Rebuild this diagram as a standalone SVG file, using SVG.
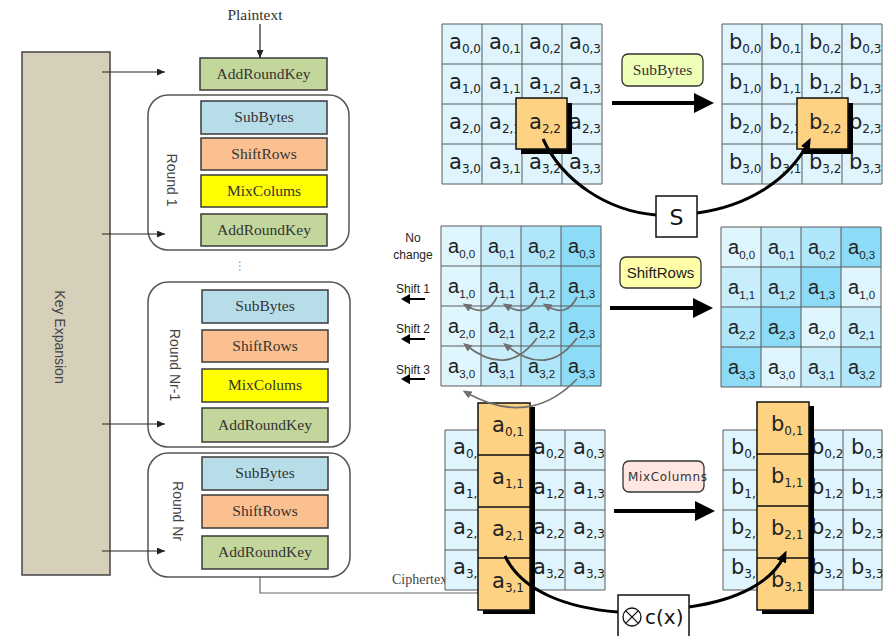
<svg xmlns="http://www.w3.org/2000/svg" width="886" height="636" viewBox="0 0 886 636">
<style>
.dv{font-family:"DejaVu Sans",sans-serif;font-size:21px;fill:#222}
.dv .sub{font-size:12px}
.ls{font-family:"Liberation Sans",Arial,sans-serif;font-size:20px;fill:#222}
.ls .sub{font-size:11.5px}
.gl{fill:none;stroke:#5a5a5a;stroke-width:1}
.or{fill:#fdd283;stroke:#111;stroke-width:1.5}
.box{stroke:#3a3a3a;stroke-width:1.5}
.bt{font-family:"Liberation Serif","Times New Roman",serif;font-size:15.5px;fill:#333;text-anchor:middle}
.rnd{fill:#fff;stroke:#555;stroke-width:1.5}
.rt{font-family:"Liberation Sans",Arial,sans-serif;font-size:14px;fill:#444;text-anchor:middle;dominant-baseline:central}
.ka{fill:none;stroke:#222;stroke-width:1.2;marker-end:url(#ah)}
.big{fill:none;stroke:#000;stroke-width:4;marker-end:url(#bh)}
.cv{fill:none;stroke:#000;stroke-width:3}
.ga{fill:none;stroke:#707070;stroke-width:1.8;marker-end:url(#gh)}
.sg{font-family:"Liberation Sans",Arial,sans-serif;font-size:12px;fill:#222;text-anchor:middle}
</style>
<defs>
<marker id="ah" markerUnits="userSpaceOnUse" markerWidth="8" markerHeight="7" refX="8" refY="3.5" orient="auto"><path d="M0,0 L8,3.5 L0,7 z" fill="#222"/></marker>
<marker id="bh" markerUnits="userSpaceOnUse" markerWidth="20" markerHeight="20" refX="8" refY="10" orient="auto"><path d="M0,0 L20,10 L0,20 z" fill="#000"/></marker>
<marker id="ch" markerUnits="userSpaceOnUse" markerWidth="12" markerHeight="10" refX="6" refY="5" orient="auto"><path d="M0,0 L12,5 L0,10 z" fill="#000"/></marker>
<marker id="gh" markerUnits="userSpaceOnUse" markerWidth="9" markerHeight="8" refX="4" refY="4" orient="auto"><path d="M0,0 L9,4 L0,8 z" fill="#707070"/></marker>
</defs>
<rect width="886" height="636" fill="#fff"/>

<!-- Left: AES structure -->
<g id="key-expansion">
<rect x="22" y="52" width="88" height="523" fill="#d6d0bb" stroke="#444" stroke-width="1.5"/>
<text class="rt" font-size="13" transform="translate(60,337) rotate(90)">Key Expansion</text>
</g>
<g id="plaintext"><text class="bt" x="255" y="20">Plaintext</text></g>
<g id="ark0"><rect class="box" x="200" y="58" width="127" height="32" fill="#c3d69b"/><text class="bt" x="263.5" y="79">AddRoundKey</text></g>

<g id="round1">
<rect class="rnd" x="148" y="95" width="201" height="155" rx="20"/>
<text class="rt" transform="translate(172,180) rotate(90)">Round 1</text>
<rect class="box" x="201" y="101" width="126" height="33" fill="#b7dee8"/><text class="bt" x="264" y="122">SubBytes</text>
<rect class="box" x="201" y="138" width="126" height="32" fill="#fac090"/><text class="bt" x="264" y="159">ShiftRows</text>
<rect class="box" x="201" y="175" width="126" height="32" fill="#ffff00"/><text class="bt" x="264" y="196">MixColums</text>
<rect class="box" x="201" y="214" width="126" height="32" fill="#c3d69b"/><text class="bt" x="264" y="235">AddRoundKey</text>
</g>
<g id="dots"><text x="240" y="270" font-family="DejaVu Sans,sans-serif" font-size="12" fill="#999" text-anchor="middle">⋮</text></g>

<g id="round-nr-1">
<rect class="rnd" x="148" y="282" width="202" height="165" rx="20"/>
<text class="rt" transform="translate(175,365) rotate(90)">Round  Nr-1</text>
<rect class="box" x="202" y="290" width="126" height="33" fill="#b7dee8"/><text class="bt" x="265" y="311">SubBytes</text>
<rect class="box" x="202" y="330" width="126" height="32" fill="#fac090"/><text class="bt" x="265" y="351">ShiftRows</text>
<rect class="box" x="202" y="369" width="126" height="33" fill="#ffff00"/><text class="bt" x="265" y="390">MixColums</text>
<rect class="box" x="202" y="408" width="126" height="34" fill="#c3d69b"/><text class="bt" x="265" y="430">AddRoundKey</text>
</g>

<g id="round-nr">
<rect class="rnd" x="148" y="453" width="202" height="124" rx="20"/>
<text class="rt" transform="translate(178,511) rotate(90)">Round Nr</text>
<rect class="box" x="202" y="457" width="126" height="33" fill="#b7dee8"/><text class="bt" x="265" y="478">SubBytes</text>
<rect class="box" x="202" y="495" width="126" height="33" fill="#fac090"/><text class="bt" x="265" y="516">ShiftRows</text>
<rect class="box" x="202" y="536" width="126" height="33" fill="#c3d69b"/><text class="bt" x="265" y="557">AddRoundKey</text>
</g>
<g id="ciphertext"><text x="392" y="584" font-family="Liberation Serif,serif" font-size="14" fill="#444">Ciphertext</text></g>
<g id="ciphertext-line"><path d="M260,577 V593 H479" fill="none" stroke="#666" stroke-width="1.2"/></g>

<!-- SubBytes grids -->
<g id="subbytes-in" class="dv">
<rect x="442" y="24" width="160" height="160" fill="#dff4fd"/>
<path class="gl" d="M442,24 h160 v160 h-160 z M482,24 v160 M522,24 v160 M562,24 v160 M442,64 h160 M442,104 h160 M442,144 h160"/>
<text x="449" y="49">a<tspan class="sub" dy="4">0,0</tspan></text>
<text x="489" y="49">a<tspan class="sub" dy="4">0,1</tspan></text>
<text x="529" y="49">a<tspan class="sub" dy="4">0,2</tspan></text>
<text x="569" y="49">a<tspan class="sub" dy="4">0,3</tspan></text>
<text x="449" y="89">a<tspan class="sub" dy="4">1,0</tspan></text>
<text x="489" y="89">a<tspan class="sub" dy="4">1,1</tspan></text>
<text x="529" y="89">a<tspan class="sub" dy="4">1,2</tspan></text>
<text x="569" y="89">a<tspan class="sub" dy="4">1,3</tspan></text>
<text x="449" y="129">a<tspan class="sub" dy="4">2,0</tspan></text>
<text x="489" y="129">a<tspan class="sub" dy="4">2,1</tspan></text>
<text x="569" y="129">a<tspan class="sub" dy="4">2,3</tspan></text>
<text x="449" y="169">a<tspan class="sub" dy="4">3,0</tspan></text>
<text x="489" y="169">a<tspan class="sub" dy="4">3,1</tspan></text>
<text x="529" y="169">a<tspan class="sub" dy="4">3,2</tspan></text>
<text x="569" y="169">a<tspan class="sub" dy="4">3,3</tspan></text>
<rect x="521" y="103" width="51" height="51" fill="#000"/>
<rect class="or" x="516" y="98" width="51" height="51"/>
<text x="529" y="129">a<tspan class="sub" dy="4">2,2</tspan></text>
</g>

<g id="subbytes-out" class="dv">
<rect x="722" y="24" width="160" height="160" fill="#dff4fd"/>
<path class="gl" d="M722,24 h160 v160 h-160 z M762,24 v160 M802,24 v160 M842,24 v160 M722,64 h160 M722,104 h160 M722,144 h160"/>
<text x="729" y="49">b<tspan class="sub" dy="4">0,0</tspan></text>
<text x="769" y="49">b<tspan class="sub" dy="4">0,1</tspan></text>
<text x="809" y="49">b<tspan class="sub" dy="4">0,2</tspan></text>
<text x="849" y="49">b<tspan class="sub" dy="4">0,3</tspan></text>
<text x="729" y="89">b<tspan class="sub" dy="4">1,0</tspan></text>
<text x="769" y="89">b<tspan class="sub" dy="4">1,1</tspan></text>
<text x="809" y="89">b<tspan class="sub" dy="4">1,2</tspan></text>
<text x="849" y="89">b<tspan class="sub" dy="4">1,3</tspan></text>
<text x="729" y="129">b<tspan class="sub" dy="4">2,0</tspan></text>
<text x="769" y="129">b<tspan class="sub" dy="4">2,1</tspan></text>
<text x="849" y="129">b<tspan class="sub" dy="4">2,3</tspan></text>
<text x="729" y="169">b<tspan class="sub" dy="4">3,0</tspan></text>
<text x="769" y="169">b<tspan class="sub" dy="4">3,1</tspan></text>
<text x="809" y="169">b<tspan class="sub" dy="4">3,2</tspan></text>
<text x="849" y="169">b<tspan class="sub" dy="4">3,3</tspan></text>
<rect x="802" y="103" width="51" height="51" fill="#000"/>
<rect class="or" x="797" y="98" width="51" height="51"/>
<text x="809" y="129">b<tspan class="sub" dy="4">2,2</tspan></text>
</g>

<g id="subbytes-label">
<rect x="622" y="54" width="81" height="32" rx="6" fill="#eeffb8" stroke="#333" stroke-width="1.3"/>
<text class="bt" x="662.5" y="75">SubBytes</text>
</g>

<!-- ShiftRows grids -->
<g id="shiftrows-in" class="ls">
<rect x="441" y="226" width="40" height="160" fill="#e0f6fe"/>
<rect x="481" y="226" width="40" height="160" fill="#c8eefc"/>
<rect x="521" y="226" width="40" height="160" fill="#b0e6fa"/>
<rect x="561" y="226" width="40" height="160" fill="#8cdbf7"/>
<path class="gl" d="M441,226 h160 v160 h-160 z M481,226 v160 M521,226 v160 M561,226 v160 M441,266 h160 M441,306 h160 M441,346 h160"/>
<text x="448" y="253">a<tspan class="sub" dy="5">0,0</tspan></text>
<text x="488" y="253">a<tspan class="sub" dy="5">0,1</tspan></text>
<text x="528" y="253">a<tspan class="sub" dy="5">0,2</tspan></text>
<text x="568" y="253">a<tspan class="sub" dy="5">0,3</tspan></text>
<text x="448" y="293">a<tspan class="sub" dy="5">1,0</tspan></text>
<text x="488" y="293">a<tspan class="sub" dy="5">1,1</tspan></text>
<text x="528" y="293">a<tspan class="sub" dy="5">1,2</tspan></text>
<text x="568" y="293">a<tspan class="sub" dy="5">1,3</tspan></text>
<text x="448" y="333">a<tspan class="sub" dy="5">2,0</tspan></text>
<text x="488" y="333">a<tspan class="sub" dy="5">2,1</tspan></text>
<text x="528" y="333">a<tspan class="sub" dy="5">2,2</tspan></text>
<text x="568" y="333">a<tspan class="sub" dy="5">2,3</tspan></text>
<text x="448" y="373">a<tspan class="sub" dy="5">3,0</tspan></text>
<text x="488" y="373">a<tspan class="sub" dy="5">3,1</tspan></text>
<text x="528" y="373">a<tspan class="sub" dy="5">3,2</tspan></text>
<text x="568" y="373">a<tspan class="sub" dy="5">3,3</tspan></text>
</g>

<g id="shift-labels">
<text class="sg" x="413" y="242">No</text>
<text class="sg" x="413" y="259">change</text>
<text class="sg" x="413" y="293">Shift 1</text>
<text class="sg" x="413" y="333">Shift 2</text>
<text class="sg" x="413" y="374">Shift 3</text>
<path d="M425,299 H404 M409,295.5 L403,299 L409,302.5 z" stroke="#000" stroke-width="2" fill="#000"/>
<path d="M425,339 H404 M409,335.5 L403,339 L409,342.5 z" stroke="#000" stroke-width="2" fill="#000"/>
<path d="M425,379 H404 M409,375.5 L403,379 L409,382.5 z" stroke="#000" stroke-width="2" fill="#000"/>
</g>

<g id="shiftrows-out" class="ls">
<rect x="721" y="227" width="40" height="40" fill="#e0f6fe"/>
<rect x="761" y="227" width="40" height="40" fill="#c8eefc"/>
<rect x="801" y="227" width="40" height="40" fill="#b0e6fa"/>
<rect x="841" y="227" width="40" height="40" fill="#8cdbf7"/>
<rect x="721" y="267" width="40" height="40" fill="#c8eefc"/>
<rect x="761" y="267" width="40" height="40" fill="#b0e6fa"/>
<rect x="801" y="267" width="40" height="40" fill="#8cdbf7"/>
<rect x="841" y="267" width="40" height="40" fill="#e0f6fe"/>
<rect x="721" y="307" width="40" height="40" fill="#b0e6fa"/>
<rect x="761" y="307" width="40" height="40" fill="#8cdbf7"/>
<rect x="801" y="307" width="40" height="40" fill="#e0f6fe"/>
<rect x="841" y="307" width="40" height="40" fill="#c8eefc"/>
<rect x="721" y="347" width="40" height="40" fill="#8cdbf7"/>
<rect x="761" y="347" width="40" height="40" fill="#e0f6fe"/>
<rect x="801" y="347" width="40" height="40" fill="#c8eefc"/>
<rect x="841" y="347" width="40" height="40" fill="#b0e6fa"/>
<path class="gl" d="M721,227 h160 v160 h-160 z M761,227 v160 M801,227 v160 M841,227 v160 M721,267 h160 M721,307 h160 M721,347 h160"/>
<text x="728" y="254">a<tspan class="sub" dy="5">0,0</tspan></text>
<text x="768" y="254">a<tspan class="sub" dy="5">0,1</tspan></text>
<text x="808" y="254">a<tspan class="sub" dy="5">0,2</tspan></text>
<text x="848" y="254">a<tspan class="sub" dy="5">0,3</tspan></text>
<text x="728" y="294">a<tspan class="sub" dy="5">1,1</tspan></text>
<text x="768" y="294">a<tspan class="sub" dy="5">1,2</tspan></text>
<text x="808" y="294">a<tspan class="sub" dy="5">1,3</tspan></text>
<text x="848" y="294">a<tspan class="sub" dy="5">1,0</tspan></text>
<text x="728" y="334">a<tspan class="sub" dy="5">2,2</tspan></text>
<text x="768" y="334">a<tspan class="sub" dy="5">2,3</tspan></text>
<text x="808" y="334">a<tspan class="sub" dy="5">2,0</tspan></text>
<text x="848" y="334">a<tspan class="sub" dy="5">2,1</tspan></text>
<text x="728" y="374">a<tspan class="sub" dy="5">3,3</tspan></text>
<text x="768" y="374">a<tspan class="sub" dy="5">3,0</tspan></text>
<text x="808" y="374">a<tspan class="sub" dy="5">3,1</tspan></text>
<text x="848" y="374">a<tspan class="sub" dy="5">3,2</tspan></text>
</g>

<g id="shiftrows-label">
<rect x="620" y="257" width="81" height="31" rx="6" fill="#ffffaa" stroke="#333" stroke-width="1.3"/>
<text x="660.5" y="278" font-family="Liberation Sans,Arial,sans-serif" font-size="15" fill="#222" text-anchor="middle">ShiftRows</text>
</g>

<!-- MixColumns grids -->
<g id="mixcolumns-in" class="dv">
<rect x="445" y="430" width="160" height="160" fill="#dff4fd"/>
<path class="gl" d="M445,430 h160 v160 h-160 z M485,430 v160 M525,430 v160 M565,430 v160 M445,470 h160 M445,510 h160 M445,550 h160"/>
<text x="453" y="454">a<tspan class="sub" dy="4">0,0</tspan></text>
<text x="533" y="454">a<tspan class="sub" dy="4">0,2</tspan></text>
<text x="573" y="454">a<tspan class="sub" dy="4">0,3</tspan></text>
<text x="453" y="494">a<tspan class="sub" dy="4">1,0</tspan></text>
<text x="533" y="494">a<tspan class="sub" dy="4">1,2</tspan></text>
<text x="573" y="494">a<tspan class="sub" dy="4">1,3</tspan></text>
<text x="453" y="534">a<tspan class="sub" dy="4">2,0</tspan></text>
<text x="533" y="534">a<tspan class="sub" dy="4">2,2</tspan></text>
<text x="573" y="534">a<tspan class="sub" dy="4">2,3</tspan></text>
<text x="453" y="574">a<tspan class="sub" dy="4">3,0</tspan></text>
<text x="533" y="574">a<tspan class="sub" dy="4">3,2</tspan></text>
<text x="573" y="574">a<tspan class="sub" dy="4">3,3</tspan></text>
<rect x="483" y="407" width="52" height="207" fill="#000"/>
<rect class="or" x="478" y="403" width="52" height="207"/>
<path d="M478,455 h52 M478,507 h52 M478,558 h52" stroke="#111" stroke-width="1.5"/>
<text x="492" y="432">a<tspan class="sub" dy="4">0,1</tspan></text>
<text x="492" y="484">a<tspan class="sub" dy="4">1,1</tspan></text>
<text x="492" y="536">a<tspan class="sub" dy="4">2,1</tspan></text>
<text x="492" y="588">a<tspan class="sub" dy="4">3,1</tspan></text>
</g>

<g id="mixcolumns-out" class="dv">
<rect x="723" y="430" width="159" height="160" fill="#dff4fd"/>
<path class="gl" d="M723,430 h159 v160 h-159 z M763,430 v160 M803,430 v160 M843,430 v160 M723,470 h159 M723,510 h159 M723,550 h159"/>
<text x="731" y="454">b<tspan class="sub" dy="4">0,0</tspan></text>
<text x="811" y="454">b<tspan class="sub" dy="4">0,2</tspan></text>
<text x="851" y="454">b<tspan class="sub" dy="4">0,3</tspan></text>
<text x="731" y="494">b<tspan class="sub" dy="4">1,0</tspan></text>
<text x="811" y="494">b<tspan class="sub" dy="4">1,2</tspan></text>
<text x="851" y="494">b<tspan class="sub" dy="4">1,3</tspan></text>
<text x="731" y="534">b<tspan class="sub" dy="4">2,0</tspan></text>
<text x="811" y="534">b<tspan class="sub" dy="4">2,2</tspan></text>
<text x="851" y="534">b<tspan class="sub" dy="4">2,3</tspan></text>
<text x="731" y="574">b<tspan class="sub" dy="4">3,0</tspan></text>
<text x="811" y="574">b<tspan class="sub" dy="4">3,2</tspan></text>
<text x="851" y="574">b<tspan class="sub" dy="4">3,3</tspan></text>
<rect x="762" y="406" width="52" height="208" fill="#000"/>
<rect class="or" x="757" y="402" width="52" height="208"/>
<path d="M757,454 h52 M757,506 h52 M757,558 h52" stroke="#111" stroke-width="1.5"/>
<text x="771" y="431">b<tspan class="sub" dy="4">0,1</tspan></text>
<text x="771" y="483">b<tspan class="sub" dy="4">1,1</tspan></text>
<text x="771" y="535">b<tspan class="sub" dy="4">2,1</tspan></text>
<text x="771" y="587">b<tspan class="sub" dy="4">3,1</tspan></text>
</g>

<g id="mixcolumns-label">
<rect x="623" y="461" width="81" height="31" rx="6" fill="#ffe6e1" stroke="#333" stroke-width="1.3"/>
<text x="628" y="481" font-family="DejaVu Sans,sans-serif" font-size="12" fill="#333" textLength="79" lengthAdjust="spacing">MixColumns</text>
</g>

<!-- Connectors -->
<g id="connectors">
<path class="ka" d="M260,24 V58"/>
<path class="ka" d="M102,72 H165"/>
<path class="ka" d="M102,234 H165"/>
<path class="ka" d="M102,424 H165"/>
<path class="ka" d="M102,551 H165"/>
<path class="big" d="M612,103 H702"/>
<path class="big" d="M610,308 H701"/>
<path class="big" d="M614,511 H703"/>
<path class="cv" d="M543,139 C563,182 608,211 656,215"/>
<path class="cv" d="M697,213 C750,206 790,178 808,143" marker-end="url(#ch)"/>
<path class="cv" d="M505,556 C522,592 568,608 618,612"/>
<path class="cv" d="M689,607 C738,600 772,582 784,556" marker-end="url(#ch)"/>
<path class="ga" d="M497,297 Q487,318 467,306"/>
<path class="ga" d="M537,297 Q527,318 507,306"/>
<path class="ga" d="M577,297 Q567,318 547,306"/>
<path class="ga" d="M537,338 Q508,378 467,346"/>
<path class="ga" d="M577,338 Q548,378 507,346"/>
<path class="ga" d="M577,379 Q530,428 467,393"/>
</g>

<g id="s-box">
<rect x="656" y="196" width="41" height="41" fill="#fff" stroke="#111" stroke-width="1.5"/>
<text x="676.5" y="225" font-family="DejaVu Sans,sans-serif" font-size="22" fill="#111" text-anchor="middle">S</text>
</g>
<g id="cx-box">
<rect x="618" y="595" width="71" height="46" fill="#fff" stroke="#111" stroke-width="1.5"/>
<circle cx="632" cy="617" r="9" fill="none" stroke="#111" stroke-width="1.3"/>
<path d="M625.6,610.6 L638.4,623.4 M638.4,610.6 L625.6,623.4" stroke="#111" stroke-width="1.3"/>
<text x="645" y="624" font-family="DejaVu Sans,sans-serif" font-size="20" fill="#111">c(x)</text>
</g>
</svg>
